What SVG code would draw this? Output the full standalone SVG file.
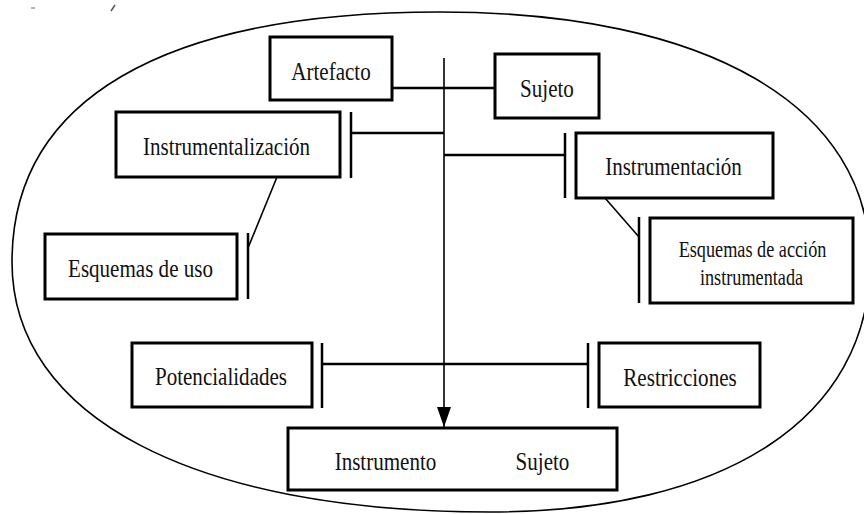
<svg xmlns="http://www.w3.org/2000/svg" width="864" height="514" viewBox="0 0 864 514">
<style>
.box{fill:#fff;stroke:#000;stroke-width:3}
.ln{stroke:#000;stroke-width:2.5;fill:none}
.thin{stroke:#000;stroke-width:1.6;fill:none}
.t{font-family:"Liberation Serif","Times New Roman",serif;font-size:26px;fill:#111;text-anchor:middle}
.s{font-family:"Liberation Serif","Times New Roman",serif;font-size:22.5px;fill:#111;text-anchor:middle}
</style>
<defs>
<marker id="arr" viewBox="0 0 20 14" refX="20" refY="7" markerWidth="20" markerHeight="14" markerUnits="userSpaceOnUse" orient="auto">
<path d="M0,0 L20,7 L0,14 Z" fill="#000"/>
</marker>
</defs>
<rect width="864" height="514" fill="#fff"/>
<g id="marks">
<line x1="31" y1="8" x2="35" y2="8" stroke="#666" stroke-width="1"/>
<line x1="111" y1="11" x2="115" y2="5" stroke="#555" stroke-width="1.5"/>
</g>
<g id="ellipse">
<path class="thin" d="M12,262 C12,100 162,12 440,12 C707,12 870,106 870,262 C870,418 726,512 490,512 C194,512 12,417 12,262 Z"/>
</g>
<g id="connectors">
<line class="thin" x1="444" y1="58" x2="444" y2="427" marker-end="url(#arr)"/>
<line class="ln" x1="392" y1="88" x2="495" y2="88" stroke-width="2"/>
<line class="ln" x1="351" y1="133" x2="444" y2="133" stroke-width="3"/>
<line class="ln" x1="351" y1="112" x2="351" y2="178"/>
<line class="ln" x1="444" y1="155" x2="565" y2="155" stroke-width="3"/>
<line class="ln" x1="565" y1="133" x2="565" y2="198"/>
<line class="thin" x1="277" y1="177" x2="248" y2="248"/>
<line class="ln" x1="248" y1="233" x2="248" y2="299"/>
<line class="thin" x1="605" y1="198" x2="639" y2="237"/>
<line class="ln" x1="639" y1="217" x2="639" y2="303"/>
<line class="ln" x1="322" y1="364" x2="588" y2="364" stroke-width="3"/>
<line class="ln" x1="322" y1="343" x2="322" y2="408"/>
<line class="ln" x1="588" y1="343" x2="588" y2="408"/>
</g>
<g id="artefacto">
<rect class="box" x="270" y="37" width="122" height="63"/>
<text class="t" transform="translate(331,80) scale(0.81,1)">Artefacto</text>
</g>
<g id="sujeto">
<rect class="box" x="495" y="54" width="104" height="64" stroke-width="2.5"/>
<text class="t" transform="translate(547,97) scale(0.81,1)">Sujeto</text>
</g>
<g id="instrumentalizacion">
<rect class="box" x="116" y="112" width="224" height="65"/>
<text class="t" transform="translate(226.5,155) scale(0.81,1)">Instrumentalización</text>
</g>
<g id="instrumentacion">
<rect class="box" x="576" y="133" width="197" height="65"/>
<text class="t" transform="translate(673.5,175) scale(0.81,1)">Instrumentación</text>
</g>
<g id="esquemas-uso">
<rect class="box" x="45" y="234" width="192" height="65" stroke-width="2.5"/>
<text class="t" transform="translate(140.5,277) scale(0.81,1)">Esquemas de uso</text>
</g>
<g id="esquemas-accion">
<rect class="box" x="650" y="218" width="203" height="85"/>
<text class="s" transform="translate(752.5,257) scale(0.81,1)">Esquemas de acción</text>
<text class="s" transform="translate(751.5,285) scale(0.81,1)">instrumentada</text>
</g>
<g id="potencialidades">
<rect class="box" x="132" y="343" width="180" height="64"/>
<text class="t" transform="translate(221,385) scale(0.81,1)">Potencialidades</text>
</g>
<g id="restricciones">
<rect class="box" x="599" y="343" width="161" height="64"/>
<text class="t" transform="translate(680,386) scale(0.81,1)">Restricciones</text>
</g>
<g id="instrumento-sujeto">
<rect class="box" x="288" y="428" width="329" height="62"/>
<text class="t" transform="translate(385.5,470) scale(0.81,1)">Instrumento</text>
<text class="t" transform="translate(542.5,470) scale(0.81,1)">Sujeto</text>
</g>
</svg>
